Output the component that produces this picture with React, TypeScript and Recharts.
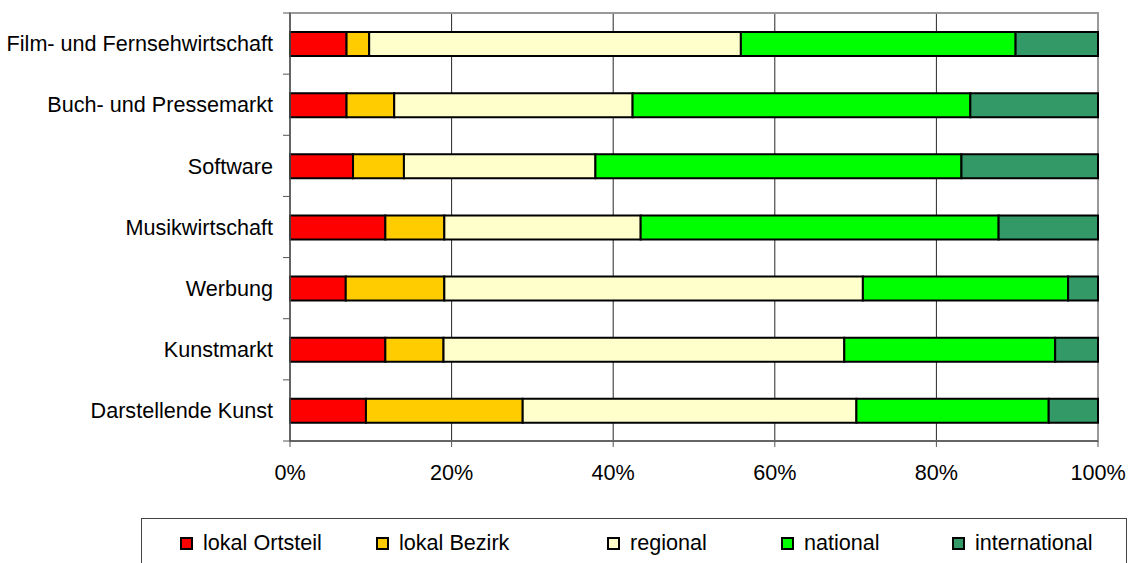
import React from "react";
import {
  BarChart,
  Bar,
  XAxis,
  YAxis,
  CartesianGrid,
  Legend,
  ReferenceArea,
} from "recharts";

// categories, top to bottom
const categories = [
  "Film- und Fernsehwirtschaft",
  "Buch- und Pressemarkt",
  "Software",
  "Musikwirtschaft",
  "Werbung",
  "Kunstmarkt",
  "Darstellende Kunst",
];

// shares in percent, same order as categories
const lokalOrtsteil = [7.0, 7.0, 7.8, 11.8, 6.9, 11.8, 9.4];
const lokalBezirk = [2.8, 5.9, 6.3, 7.3, 12.2, 7.2, 19.4];
const regional = [46.0, 29.5, 23.7, 24.3, 51.8, 49.6, 41.3];
const national = [34.0, 41.8, 45.3, 44.3, 25.4, 26.1, 23.8];
const international = [10.2, 15.8, 16.9, 12.3, 3.7, 5.3, 6.1];

const xTicks = [0, 20, 40, 60, 80, 100];

const seriesNames = ["lokal Ortsteil", "lokal Bezirk", "regional", "national", "international"];
const seriesKeys = ["ortsteil", "bezirk", "regional", "national", "international"];
const seriesColors = ["#FF0000", "#FFCC00", "#FFFFCC", "#00FF00", "#339966"];

const data = categories.map((name, i) => ({
  name,
  ortsteil: lokalOrtsteil[i],
  bezirk: lokalBezirk[i],
  regional: regional[i],
  national: national[i],
  international: international[i],
}));

const FONT = "'Liberation Sans', Arial, sans-serif";
const FS = 21.6;
const BAND_HALF = 428 / 7 / 2;

// category label plus the boundary tick marks Excel draws between categories
const CategoryTick = (props: any) => {
  const { x, y, payload, index, visibleTicksCount } = props;
  const axisX = x + 17;
  return (
    <g>
      <line x1={axisX - 7} x2={axisX} y1={y - BAND_HALF} y2={y - BAND_HALF} stroke="#555" />
      {index === visibleTicksCount - 1 && (
        <line x1={axisX - 7} x2={axisX} y1={y + BAND_HALF} y2={y + BAND_HALF} stroke="#555" />
      )}
      <text x={x} y={y} dy="0.36em" textAnchor="end" fontSize={FS} fontFamily={FONT} fill="#000">
        {payload.value}
      </text>
    </g>
  );
};

const legendOffsets = [38, 234, 465, 639, 810];

const LegendBox = () => (
  <div
    style={{
      position: "relative",
      width: 986,
      height: 60,
      border: "1.5px solid #444",
      boxSizing: "border-box",
      fontFamily: FONT,
      fontSize: FS,
    }}
  >
    {seriesNames.map((n, i) => (
      <div
        key={n}
        style={{ position: "absolute", left: legendOffsets[i], top: 10, display: "flex", alignItems: "center", height: 28 }}
      >
        <span
          style={{
            display: "inline-block",
            width: 13,
            height: 13,
            background: seriesColors[i],
            border: "2px solid #000",
            boxSizing: "border-box",
            marginRight: 10,
          }}
        />
        <span style={{ color: "#000", whiteSpace: "nowrap" }}>{n}</span>
      </div>
    ))}
  </div>
);

const App: React.FC = () => {
  return (
    <div style={{ position: "absolute", left: 0, top: 0, width: 1131, height: 563, background: "#fff" }}>
      <BarChart
        width={1131}
        height={563}
        data={data}
        layout="vertical"
        barSize={24}
        margin={{ top: 13, right: 33, left: 0, bottom: 12 }}
      >
        <CartesianGrid horizontal={false} stroke="#000" strokeOpacity={0.85} />
        <ReferenceArea x1={0} x2={100} fill="none" stroke="#999" strokeWidth={2} />
        <XAxis
          type="number"
          domain={[0, 100]}
          ticks={xTicks}
          tickFormatter={(v) => `${v}%`}
          height={50}
          axisLine={{ stroke: "#555", strokeWidth: 1.5 }}
          tickLine={{ stroke: "#555" }}
          tickSize={6}
          tickMargin={18}
          tick={{ fontSize: FS, fontFamily: FONT, fill: "#000" }}
        />
        <YAxis
          type="category"
          dataKey="name"
          width={290}
          axisLine={{ stroke: "#555", strokeWidth: 1.5 }}
          tickLine={false}
          tickSize={0}
          tickMargin={17}
          tick={<CategoryTick />}
          interval={0}
        />
        <Legend
          verticalAlign="bottom"
          content={() => <LegendBox />}
          wrapperStyle={{ position: "absolute", left: 141, top: 518, width: 986, height: 60 }}
        />
        {seriesKeys.map((k, i) => (
          <Bar
            key={k}
            dataKey={k}
            name={seriesNames[i]}
            stackId="a"
            fill={seriesColors[i]}
            stroke="#000"
            strokeWidth={2}
            isAnimationActive={false}
          />
        ))}
      </BarChart>
    </div>
  );
};

export default App;
